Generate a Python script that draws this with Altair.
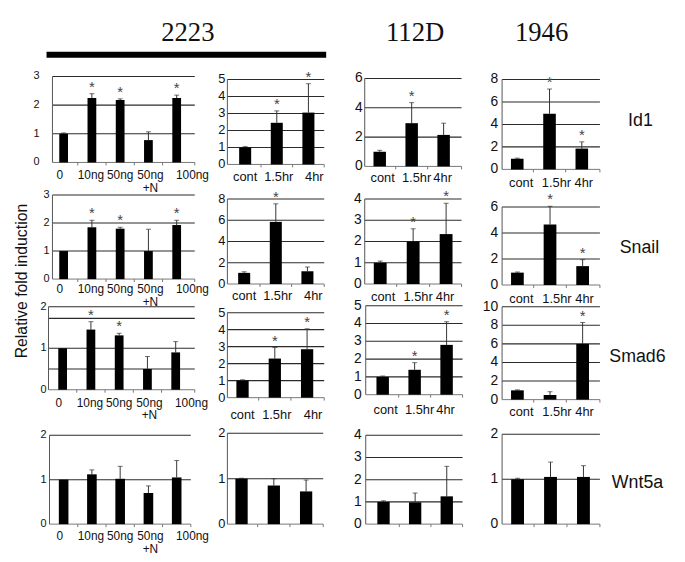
import altair as alt
import pandas as pd

OFF = 8  # page margin

DOSE = ["0", "10ng", "50ng", "50ng\n+N", "100ng"]
TIME = ["cont", "1.5hr", "4hr"]
GENES = ["Id1", "Snail", "Smad6", "Wnt5a"]
LINES = ["2223", "112D", "1946"]

# ---- Id1 ----
ID1_2223_DOSE = [1.0, 2.25, 2.18, 0.78, 2.25]
ID1_2223_DOSE_ERR = [0.03, 0.15, 0.04, 0.29, 0.10]
ID1_2223_DOSE_SIG = [0, 1, 1, 0, 1]
ID1_2223_TIME = [1.0, 2.45, 3.05]
ID1_2223_TIME_ERR = [0.05, 0.70, 1.70]
ID1_2223_TIME_SIG = [0, 1, 1]
ID1_112D = [1.0, 2.95, 2.15]
ID1_112D_ERR = [0.10, 1.40, 0.80]
ID1_112D_SIG = [0, 1, 0]
ID1_1946 = [0.95, 4.95, 1.85]
ID1_1946_ERR = [0.05, 2.20, 0.60]
ID1_1946_SIG = [0, 1, 1]

# ---- Snail ----
SNAIL_2223_DOSE = [1.0, 1.85, 1.80, 1.0, 1.93]
SNAIL_2223_DOSE_ERR = [0.0, 0.25, 0.05, 0.78, 0.17]
SNAIL_2223_DOSE_SIG = [0, 1, 1, 0, 1]
SNAIL_2223_TIME = [1.05, 5.85, 1.20]
SNAIL_2223_TIME_ERR = [0.10, 1.70, 0.40]
SNAIL_2223_TIME_SIG = [0, 1, 0]
SNAIL_112D = [1.0, 2.0, 2.35]
SNAIL_112D_ERR = [0.08, 0.60, 1.45]
SNAIL_112D_SIG = [0, 1, 1]
SNAIL_1946 = [0.95, 4.65, 1.45]
SNAIL_1946_ERR = [0.05, 1.40, 0.50]
SNAIL_1946_SIG = [0, 1, 1]

# ---- Smad6 ----
SMAD6_2223_DOSE = [1.0, 1.45, 1.31, 0.50, 0.90]
SMAD6_2223_DOSE_ERR = [0.0, 0.19, 0.05, 0.30, 0.26]
SMAD6_2223_DOSE_SIG = [0, 1, 1, 0, 0]
SMAD6_2223_TIME = [1.0, 2.30, 2.85]
SMAD6_2223_TIME_ERR = [0.05, 0.65, 1.20]
SMAD6_2223_TIME_SIG = [0, 1, 1]
SMAD6_112D = [1.0, 1.40, 2.80]
SMAD6_112D_ERR = [0.05, 0.40, 1.30]
SMAD6_112D_SIG = [0, 1, 1]
SMAD6_1946 = [1.0, 0.50, 6.0]
SMAD6_1946_ERR = [0.05, 0.35, 2.30]
SMAD6_1946_SIG = [0, 0, 1]

# ---- Wnt5a ----
WNT5A_2223_DOSE = [1.0, 1.12, 1.02, 0.70, 1.05]
WNT5A_2223_DOSE_ERR = [0.0, 0.10, 0.28, 0.16, 0.38]
WNT5A_2223_DOSE_SIG = [0, 0, 0, 0, 0]
WNT5A_2223_TIME = [1.0, 0.85, 0.72]
WNT5A_2223_TIME_ERR = [0.01, 0.15, 0.25]
WNT5A_2223_TIME_SIG = [0, 0, 0]
WNT5A_112D = [1.0, 0.98, 1.25]
WNT5A_112D_ERR = [0.05, 0.42, 1.35]
WNT5A_112D_SIG = [0, 0, 0]
WNT5A_1946 = [1.0, 1.05, 1.05]
WNT5A_1946_ERR = [0.02, 0.33, 0.25]
WNT5A_1946_SIG = [0, 0, 0]

# axis ticks / gridlines per panel
TICKS = {
    "p11": [0, 1, 2, 3], "p12": [0, 1, 2, 3, 4, 5], "p13": [0, 2, 4, 6], "p14": [0, 2, 4, 6, 8],
    "p21": [0, 1, 2, 3], "p22": [0, 2, 4, 6, 8], "p23": [0, 1, 2, 3, 4], "p24": [0, 2, 4, 6],
    "p31": [0, 1, 2], "p32": [0, 1, 2, 3, 4, 5], "p33": [0, 1, 2, 3, 4, 5], "p34": [0, 2, 4, 6, 8, 10],
    "p41": [0, 1, 2], "p42": [0, 1, 2], "p43": [0, 1, 2, 3, 4], "p44": [0, 1, 2],
}
GRID = {
    "p11": [1, 2, 3], "p12": [1, 2, 3, 4, 5], "p13": [2, 4, 6], "p14": [2, 4, 6, 8],
    "p21": [1, 2, 3], "p22": [2, 4, 6, 8], "p23": [1, 2, 3, 4], "p24": [2, 4, 6],
    "p31": [0.5, 1, 1.72, 2], "p32": [1, 2, 3, 4, 5], "p33": [1, 2, 3, 4, 5], "p34": [2, 4, 6, 8, 10],
    "p41": [1, 2], "p42": [1, 2], "p43": [1, 2, 3, 4], "p44": [1, 2],
}

# layout (image pixels):
# grid x0, grid x1, band x0, band x1, y_zero, y_top, ymax, label_right, xlabel_top, yfont, xfont, barwidth
GEO = {
    "p11": (53, 197, 50, 193, 161, 74, 3, 40, 169, 11, 12, 0.31),
    "p12": (230, 328, 232, 328, 163, 77, 5, 228, 170, 13, 13, 0.38),
    "p13": (369, 467, 368, 465, 165, 76, 6, 367, 171, 14, 13, 0.39),
    "p14": (508, 607, 507, 605, 168, 77, 8, 504, 176, 14, 13, 0.39),
    "p21": (53, 197, 50, 193, 279, 194, 3, 50, 284, 11, 12, 0.31),
    "p22": (230, 328, 231, 327, 284, 198, 8, 228, 290, 13, 13, 0.38),
    "p23": (369, 467, 368, 468, 284, 198, 4, 366, 291, 14, 13, 0.39),
    "p24": (508, 607, 507, 606, 285, 206, 6, 504, 293, 14, 13, 0.39),
    "p31": (49, 197, 49, 192, 391, 307, 2, 47, 399, 11, 12, 0.31),
    "p32": (230, 328, 229, 327, 399, 313, 5, 228, 411, 13, 13, 0.38),
    "p33": (370, 468, 371, 468, 396, 306, 5, 366, 406, 14, 13, 0.39),
    "p34": (508, 607, 507, 606, 401, 307, 10, 504, 408, 14, 13, 0.39),
    "p41": (50, 193, 50, 193, 527, 437, 2, 47, 534, 11, 12, 0.34),
    "p42": (230, 327, 228, 326, 527, 435, 2, 228, None, 13, 13, 0.38),
    "p43": (370, 468, 372, 468, 527, 437, 4, 366, None, 14, 13, 0.39),
    "p44": (508, 607, 507, 607, 527, 436, 2, 504, None, 14, 13, 0.39),
}

# horizontal nudges of category labels (pixels), per column
XLAB_DX = {1: [-4, -1, 0, 2, 16], 2: [0, 2, 6], 3: [3, 5, -1], 4: [4, 7, 2]}

SERIES = {
    "p11": (DOSE, ID1_2223_DOSE, ID1_2223_DOSE_ERR, ID1_2223_DOSE_SIG),
    "p12": (TIME, ID1_2223_TIME, ID1_2223_TIME_ERR, ID1_2223_TIME_SIG),
    "p13": (TIME, ID1_112D, ID1_112D_ERR, ID1_112D_SIG),
    "p14": (TIME, ID1_1946, ID1_1946_ERR, ID1_1946_SIG),
    "p21": (DOSE, SNAIL_2223_DOSE, SNAIL_2223_DOSE_ERR, SNAIL_2223_DOSE_SIG),
    "p22": (TIME, SNAIL_2223_TIME, SNAIL_2223_TIME_ERR, SNAIL_2223_TIME_SIG),
    "p23": (TIME, SNAIL_112D, SNAIL_112D_ERR, SNAIL_112D_SIG),
    "p24": (TIME, SNAIL_1946, SNAIL_1946_ERR, SNAIL_1946_SIG),
    "p31": (DOSE, SMAD6_2223_DOSE, SMAD6_2223_DOSE_ERR, SMAD6_2223_DOSE_SIG),
    "p32": (TIME, SMAD6_2223_TIME, SMAD6_2223_TIME_ERR, SMAD6_2223_TIME_SIG),
    "p33": (TIME, SMAD6_112D, SMAD6_112D_ERR, SMAD6_112D_SIG),
    "p34": (TIME, SMAD6_1946, SMAD6_1946_ERR, SMAD6_1946_SIG),
    "p41": (DOSE, WNT5A_2223_DOSE, WNT5A_2223_DOSE_ERR, WNT5A_2223_DOSE_SIG),
    "p42": (TIME, WNT5A_2223_TIME, WNT5A_2223_TIME_ERR, WNT5A_2223_TIME_SIG),
    "p43": (TIME, WNT5A_112D, WNT5A_112D_ERR, WNT5A_112D_SIG),
    "p44": (TIME, WNT5A_1946, WNT5A_1946_ERR, WNT5A_1946_SIG),
}

FONT = "Liberation Sans"


def panel(key):
    cats, mean, err, sig = SERIES[key]
    gx0, gx1, bx0, bx1, yz, yt, ymax, lab_r, xlab, yfs, xfs, bw = GEO[key]
    col = int(key[2])
    top = [round(m + e, 3) for m, e in zip(mean, err)]
    df = pd.DataFrame({"i": list(range(len(cats))), "cat": cats, "mean": mean,
                       "top": top, "err": err, "sig": sig})
    xs = alt.Scale(domain=cats, range=[bx0 - OFF, bx1 - OFF], paddingInner=0, paddingOuter=0)
    ys = alt.Scale(domain=[0, ymax], range=[yz - OFF, yt - OFF], nice=False, zero=False)
    X = alt.X("cat:N", scale=xs, axis=None)
    base = alt.Chart(df)
    gdf = pd.DataFrame({"v": GRID[key]})
    tdf = pd.DataFrame({"v": TICKS[key], "lab": [str(t) for t in TICKS[key]]})
    adf = pd.DataFrame({"lo": [0], "hi": [ymax]})

    layers = [
        alt.Chart(gdf).mark_rule(color="#2b2b2b", strokeWidth=1.1).encode(
            y=alt.Y("v:Q", scale=ys, axis=None),
            x=alt.value(gx0 - OFF), x2=alt.value(gx1 - OFF)),
        alt.Chart(adf).mark_rule(color="#555", strokeWidth=1).encode(
            y=alt.Y("lo:Q", scale=ys, axis=None), y2="hi:Q", x=alt.value(gx0 - OFF)),
        alt.Chart(adf).mark_rule(color="#777", strokeWidth=1).encode(
            y=alt.Y("lo:Q", scale=ys, axis=None),
            x=alt.value(gx0 - OFF), x2=alt.value(gx1 - OFF)),
        alt.Chart(adf).mark_rule(color="#777").encode(
            x=alt.value(gx1 - OFF), y=alt.value(yz - OFF), y2=alt.value(yz - OFF + 3)),
        base.transform_filter("datum.i > 0").mark_rule(color="#777").encode(
            x=alt.X("cat:N", scale=xs, axis=None, bandPosition=0),
            y=alt.value(yz - OFF), y2=alt.value(yz - OFF + 3)),
        base.transform_filter("datum.err > 0").mark_rule(color="#333", strokeWidth=1).encode(
            x=X, y=alt.Y("mean:Q", scale=ys, axis=None), y2="top:Q"),
        base.transform_filter("datum.err > 0").mark_tick(color="#333", size=5, thickness=1).encode(
            x=X, y=alt.Y("top:Q", scale=ys, axis=None)),
        base.mark_bar(color="black", width=alt.RelativeBandSize(bw)).encode(
            x=X, y=alt.Y("mean:Q", scale=ys, axis=None)),
        base.transform_filter("datum.sig == 1").mark_text(
            text="*", fontSize=15, font=FONT, color="#444", baseline="alphabetic", dy=-2).encode(
            x=X, y=alt.Y("top:Q", scale=ys, axis=None)),
        alt.Chart(tdf).mark_text(align="right", baseline="middle", fontSize=yfs, font=FONT,
                                 color="#111").encode(
            y=alt.Y("v:Q", scale=ys, axis=None), x=alt.value(lab_r - OFF), text="lab:N"),
    ]
    if xlab is not None:
        for i, dx in enumerate(XLAB_DX[col]):
            layers.append(base.transform_filter(f"datum.i == {i}").mark_text(
                baseline="top", fontSize=xfs, font=FONT, lineBreak="\n",
                lineHeight=xfs + 1, color="#111", dx=dx).encode(
                x=X, y=alt.value(xlab - OFF), text="cat:N"))
    return alt.layer(*layers)


def label(text, x, y, size, font=FONT, angle=0, align="center"):
    return alt.Chart(pd.DataFrame({"t": [text]})).mark_text(
        fontSize=size, font=font, angle=angle, align=align, baseline="middle", color="#111"
    ).encode(text="t:N", x=alt.value(x - OFF), y=alt.value(y - OFF))


panels = [panel(k) for k in GEO]

annots = [
    label(LINES[0], 190, 30, 27, font="Liberation Serif"),
    label(LINES[1], 420, 30, 27, font="Liberation Serif"),
    label(LINES[2], 548, 30, 27, font="Liberation Serif"),
    alt.Chart(pd.DataFrame({"t": [LINES[0]]})).mark_rule(color="black", strokeWidth=6).encode(
        x=alt.value(47 - OFF), x2=alt.value(330 - OFF), y=alt.value(52 - OFF)),
    label(GENES[0], 648, 119, 18),
    label(GENES[1], 647, 248, 18),
    label(GENES[2], 645, 358, 18),
    label(GENES[3], 645, 485, 18),
    label("Relative fold induction", 22, 281, 16, angle=270),
]

chart = alt.layer(*panels, *annots).resolve_scale(
    x="independent", y="independent"
).properties(
    width=677, height=554, padding=0, autosize=alt.AutoSizeParams(type="none")
).configure_view(stroke=None)

chart.save("out.html", embed_options={"renderer": "svg", "actions": False})
